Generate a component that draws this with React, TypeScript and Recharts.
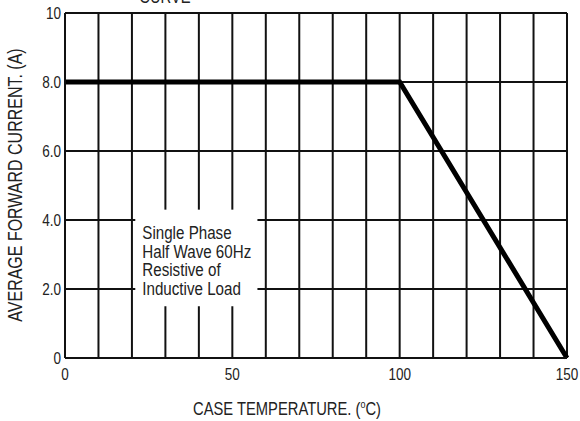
import { CartesianGrid, Line, LineChart, ReferenceArea, XAxis, YAxis } from "recharts";

const temps = [0, 100, 150];
const current = [8, 8, 0];
const xTicks = [0, 10, 20, 30, 40, 50, 60, 70, 80, 90, 100, 110, 120, 130, 140, 150];
const xLabeled = [0, 50, 100, 150];
const yTicks = [0, 2, 4, 6, 8, 10];
const yLabels = ["0", "2.0", "4.0", "6.0", "8.0", "10"];
const noteLines = ["Single Phase", "Half Wave 60Hz", "Resistive of", "Inductive Load"];

const data = temps.map((t, i) => ({ t, a: current[i] }));
const font = "'Liberation Sans', Arial, sans-serif";
const SQUEEZE = 0.82; // the source lettering is a narrow grotesque

// text drawn narrow: translate to the anchor, then squeeze horizontally
function Narrow({ x, y, size, anchor = "start", rotate = 0, children }: any) {
  return (
    <text
      transform={`translate(${x} ${y}) rotate(${rotate}) scale(${SQUEEZE} 1)`}
      x={0}
      y={0}
      textAnchor={anchor}
      fontSize={size}
      fontFamily={font}
      fill="#222"
    >
      {children}
    </text>
  );
}

function XTick(props: any) {
  const { x, y, payload } = props;
  if (!xLabeled.includes(payload.value)) return null;
  return (
    <Narrow x={x} y={y + 22} size={16.5} anchor="middle">
      {String(payload.value)}
    </Narrow>
  );
}

function YTick(props: any) {
  const { x, y, payload } = props;
  return (
    <Narrow x={x} y={y + 6} size={16.5} anchor="end">
      {yLabels[yTicks.indexOf(payload.value)]}
    </Narrow>
  );
}

function NoteBox(props: any) {
  const { x, y, width, height } = props;
  return (
    <g>
      <rect x={x} y={y} width={width} height={height} fill="#fff" />
      {noteLines.map((l, i) => (
        <Narrow key={l} x={x + 7} y={y + 29 + i * 18.9} size={18.5}>
          {l}
        </Narrow>
      ))}
    </g>
  );
}

export default function App() {
  return (
    <div style={{ position: "absolute", left: 0, top: 0, width: 580, height: 421, background: "#fff" }}>
      <LineChart width={580} height={421} data={data} margin={{ top: 13, right: 13, bottom: 0, left: 0 }}>
        <Narrow x={165} y={3} size={18} anchor="middle">
          CURVE
        </Narrow>
        <CartesianGrid stroke="#111" strokeWidth={2} strokeOpacity={1} />
        <XAxis
          dataKey="t"
          type="number"
          domain={[0, 150]}
          ticks={xTicks}
          interval={0}
          tickLine={false}
          tickSize={0}
          tickMargin={0}
          axisLine={{ stroke: "#111", strokeWidth: 2 }}
          tick={<XTick />}
          height={63}
          label={{
            content: () => (
              <Narrow x={287} y={415} size={18} anchor="middle">
                CASE TEMPERATURE. (
                <tspan fontSize={11} dy={-7}>o</tspan>
                <tspan dy={7}>C)</tspan>
              </Narrow>
            ),
          }}
        />
        <YAxis
          type="number"
          domain={[0, 10]}
          ticks={yTicks}
          interval={0}
          tickLine={false}
          tickSize={0}
          tickMargin={4}
          width={65}
          axisLine={{ stroke: "#111", strokeWidth: 2 }}
          tick={<YTick />}
          label={{
            content: () => (
              <Narrow x={22} y={185} size={19.5} anchor="middle" rotate={-90}>
                AVERAGE FORWARD CURRENT. (A)
              </Narrow>
            ),
          }}
        />
        <ReferenceArea x1={21} x2={57.5} y1={1.5} y2={4.3} ifOverflow="visible" shape={<NoteBox />} />
        <Line
          dataKey="a"
          type="linear"
          stroke="#000"
          strokeWidth={5}
          dot={false}
          isAnimationActive={false}
        />
      </LineChart>
    </div>
  );
}
